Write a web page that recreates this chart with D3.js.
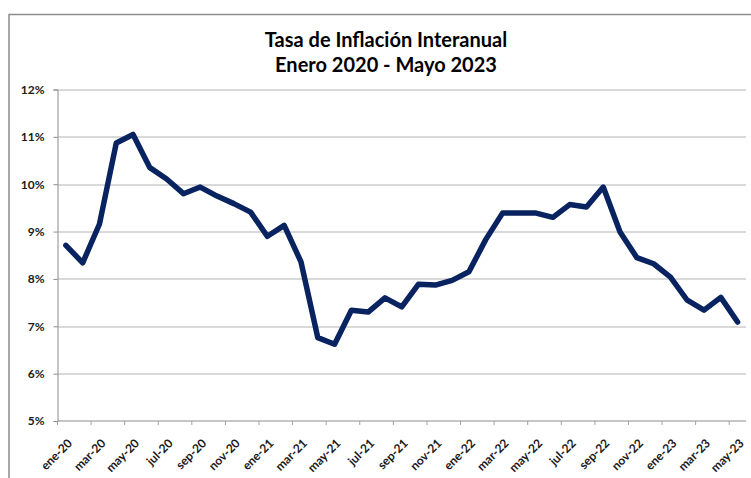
<!DOCTYPE html>
<html>
<head>
<meta charset="utf-8">
<script src="https://cdn.jsdelivr.net/npm/d3@7"></script>
<style>
    body { margin: 0; background: #fff; }
    svg text { font-family: Lato, "Open Sans", sans-serif; font-weight: bold; fill: #1a1a1a; }
</style>
</head>
<body>
<div id="chart"></div>
<script>
// monthly labels, ene-20 .. may-23
var months = [
    "ene-20", "feb-20", "mar-20", "abr-20", "may-20", "jun-20", "jul-20", "ago-20", "sep-20", "oct-20", "nov-20", "dic-20",
    "ene-21", "feb-21", "mar-21", "abr-21", "may-21", "jun-21", "jul-21", "ago-21", "sep-21", "oct-21", "nov-21", "dic-21",
    "ene-22", "feb-22", "mar-22", "abr-22", "may-22", "jun-22", "jul-22", "ago-22", "sep-22", "oct-22", "nov-22", "dic-22",
    "ene-23", "feb-23", "mar-23", "abr-23", "may-23"
];
// year-on-year inflation, %
var inflation = [
    8.71, 8.34, 9.16, 10.87, 11.05, 10.35, 10.11, 9.80, 9.94, 9.75, 9.59, 9.41,
    8.90, 9.13, 8.36, 6.76, 6.62, 7.34, 7.30, 7.60, 7.41, 7.89, 7.87, 7.97,
    8.15, 8.83, 9.39, 9.39, 9.39, 9.30, 9.57, 9.52, 9.94, 8.99, 8.45, 8.32,
    8.04, 7.55, 7.34, 7.61, 7.09
];
var yTicks = [5, 6, 7, 8, 9, 10, 11, 12];
var titleLines = ["Tasa de Inflación Interanual", "Enero 2020 - Mayo 2023"];

function makeChart() {
    var W = 751, H = 478;
    var margin = { top: 89.5, right: 5, bottom: 57, left: 57.5 },
        width = W - margin.left - margin.right,
        height = 421 - margin.top;

    var root = d3.select("#chart").append("svg")
        .attr("width", W)
        .attr("height", H);

    // chart area border (open to the right and bottom like the source)
    root.append("path")
        .attr("d", "M9,480 L9,14.5 L760,14.5")
        .attr("fill", "none")
        .attr("stroke", "#8c8c8c")
        .attr("stroke-width", 1.5);

    root.selectAll(".title")
        .data(titleLines)
        .enter()
        .append("text")
        .attr("class", "title")
        .attr("x", 386)
        .attr("y", (d, i) => 47 + i * 25)
        .attr("text-anchor", "middle")
        .style("font-size", "20px")
        .style("fill", "#000")
        .text((d) => d);

    var svg = root.append("g")
        .attr("transform", "translate(" + margin.left + "," + margin.top + ")");

    var x = d3.scaleBand().domain(months).range([0, width]).paddingInner(0).paddingOuter(0);
    var bw = x.bandwidth();
    var y = d3.scaleLinear().domain([5, 12]).range([height, 0]);

    // gridlines
    svg.selectAll(".grid")
        .data(yTicks.slice(1))
        .enter()
        .append("line")
        .attr("x1", 0)
        .attr("x2", width)
        .attr("y1", (d) => Math.round(y(d)) + 0.5)
        .attr("y2", (d) => Math.round(y(d)) + 0.5)
        .attr("stroke", "#b4b4b4")
        .attr("stroke-width", 1.2);

    // y axis
    var yAxis = svg.append("g")
        .call(d3.axisLeft(y).tickValues(yTicks).tickSize(4).tickPadding(9).tickFormat((d) => d + "%"));
    yAxis.select(".domain").attr("stroke", "#8c8c8c");
    yAxis.selectAll(".tick line").attr("stroke", "#8c8c8c");
    yAxis.selectAll("text").style("font-size", "12px").attr("fill", "#1a1a1a");

    // x axis line + ticks between categories
    svg.append("line")
        .attr("x1", 0).attr("x2", width)
        .attr("y1", height).attr("y2", height)
        .attr("stroke", "#8c8c8c");

    var labelled = months.filter((d, i) => i % 2 === 0);

    svg.selectAll(".xtick")
        .data(labelled)
        .enter()
        .append("line")
        .attr("x1", (d) => x(d)).attr("x2", (d) => x(d))
        .attr("y1", height).attr("y2", height + 4)
        .attr("stroke", "#a0a0a0");

    svg.selectAll(".xlabel")
        .data(labelled)
        .enter()
        .append("text")
        .attr("transform", (d) => "translate(" + (x(d) + bw / 2 + 4) + "," + (height + 20) + ") rotate(-45)")
        .attr("text-anchor", "end")
        .attr("dy", "0.35em")
        .style("font-size", "12px")
        .text((d) => d);

    // the line
    var line = d3.line()
        .x((d, i) => x(months[i]) + bw / 2)
        .y((d) => y(d));

    svg.append("path")
        .datum(inflation)
        .attr("fill", "none")
        .attr("stroke", "#082360")
        .attr("stroke-width", 5.5)
        .attr("stroke-linejoin", "round")
        .attr("stroke-linecap", "round")
        .attr("d", line);
}

makeChart();
</script>
</body>
</html>
